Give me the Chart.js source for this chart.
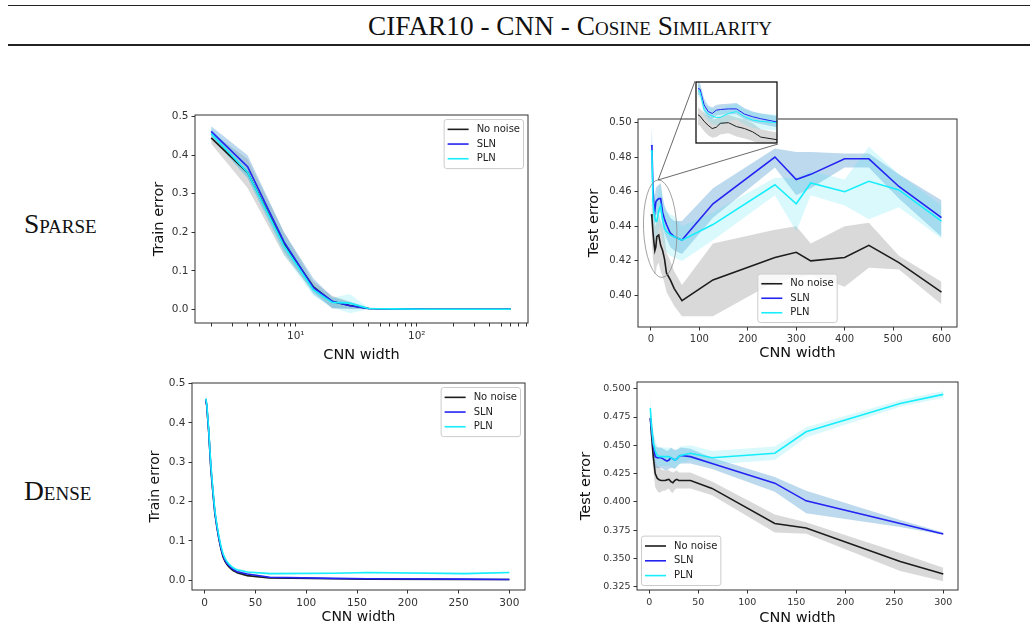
<!DOCTYPE html>
<html>
<head>
<meta charset="utf-8">
<script src="https://cdn.jsdelivr.net/npm/chart.js@4.4.0/dist/chart.umd.min.js"></script>
<style>
  body { margin: 0; background: #fff; }
  #page { position: relative; width: 1034px; height: 642px; overflow: hidden; background: #fff;
          font-family: "Liberation Serif", "Times New Roman", serif; color: #111; }
  .rule { position: absolute; left: 8px; right: 4px; background: #222; }
  #title { position: absolute; left: 570px; top: 13px; transform: translateX(-50%); white-space: nowrap;
           font-size: 27.3px; line-height: 27px; font-variant: small-caps; }
  .rowlab { position: absolute; left: 24px; font-size: 27.5px; line-height: 27px; font-variant: small-caps; }
  canvas { position: absolute; }
</style>
</head>
<body>
<div id="page">
  <div class="rule" style="top:5px;height:1px"></div>
  <div id="title">CIFAR10 - CNN - Cosine Similarity</div>
  <div class="rule" style="top:44px;height:1.5px"></div>
  <div class="rowlab" style="top:210px">Sparse</div>
  <div class="rowlab" style="top:477px">Dense</div>
</div>
<script>
// ---- sparse, train error (log x) ----
const sparseTrainX = [2, 4, 8, 14, 20, 28, 40, 64, 128, 256, 300, 330, 400, 450, 512, 600];
const sparseTrainClean   = [0.445, 0.355, 0.170, 0.058, 0.020, 0.010, 0.002, 0.001, 0, 0, 0, 0, 0, 0, 0, 0];
const sparseTrainCleanLo = [0.430, 0.315, 0.140, 0.046, 0.003, 0.002, 0, 0, 0, 0, 0, 0, 0, 0, 0, 0];
const sparseTrainCleanHi = [0.460, 0.390, 0.200, 0.072, 0.035, 0.020, 0.004, 0.002, 0, 0, 0, 0, 0, 0, 0, 0];
const sparseTrainSLN     = [0.462, 0.370, 0.175, 0.056, 0.021, 0.009, 0.002, 0.001, 0, 0, 0, 0, 0, 0, 0, 0];
const sparseTrainSLNLo   = [0.450, 0.340, 0.150, 0.040, 0.003, 0.001, 0, 0, 0, 0, 0, 0, 0, 0, 0, 0];
const sparseTrainSLNHi   = [0.475, 0.400, 0.200, 0.080, 0.032, 0.018, 0.004, 0.002, 0, 0, 0, 0, 0, 0, 0, 0];
const sparseTrainPLN     = [0.456, 0.355, 0.165, 0.050, 0.018, 0.016, 0.002, 0.001, 0, 0, 0, 0, 0, 0, 0, 0];
const sparseTrainPLNLo   = [0.445, 0.340, 0.140, 0.035, 0.005, -0.010, 0, 0, 0, 0, 0, 0, 0, 0, 0, 0];
const sparseTrainPLNHi   = [0.470, 0.375, 0.190, 0.065, 0.030, 0.040, 0.004, 0.002, 0, 0, 0, 0, 0, 0, 0, 0];
const sparseTrainYTicks = [0, 0.1, 0.2, 0.3, 0.4, 0.5];
const sparseTrainXTicks = [2, 3, 4, 5, 6, 7, 8, 9, 10, 20, 30, 40, 50, 60, 70, 80, 90, 100, 200, 300, 400, 500, 600, 700, 800];
const sparseTrainXLabels = { 10: '10\u00b9', 100: '10\u00b2' };

// ---- sparse, test error ----
const sparseTestX = [1, 2, 4, 6, 8, 10, 12, 16, 20, 24, 28, 32, 40, 48, 64, 128, 256, 300, 330, 400, 450, 512, 600];
const sparseTestClean   = [0.447, 0.445, 0.437, 0.431, 0.426, 0.428, 0.434, 0.435, 0.429, 0.426, 0.421, 0.413, 0.409, 0.404, 0.397, 0.409, 0.422, 0.425, 0.420, 0.422, 0.429, 0.419, 0.402];
const sparseTestCleanLo = [0.432, 0.430, 0.422, 0.416, 0.412, 0.413, 0.417, 0.419, 0.414, 0.411, 0.407, 0.402, 0.398, 0.394, 0.388, 0.388, 0.408, 0.410, 0.412, 0.405, 0.416, 0.415, 0.395];
const sparseTestCleanHi = [0.458, 0.456, 0.450, 0.445, 0.440, 0.441, 0.445, 0.447, 0.443, 0.440, 0.434, 0.425, 0.420, 0.414, 0.406, 0.430, 0.438, 0.440, 0.430, 0.440, 0.442, 0.423, 0.408];
const sparseTestSLN     = [0.487, 0.486, 0.462, 0.452, 0.449, 0.454, 0.455, 0.456, 0.456, 0.448, 0.444, 0.441, 0.436, 0.434, 0.432, 0.453, 0.480, 0.467, 0.470, 0.479, 0.479, 0.463, 0.445];
const sparseTestSLNLo   = [0.478, 0.476, 0.452, 0.443, 0.440, 0.446, 0.447, 0.448, 0.448, 0.440, 0.436, 0.433, 0.428, 0.426, 0.424, 0.445, 0.474, 0.458, 0.462, 0.474, 0.474, 0.456, 0.434];
const sparseTestSLNHi   = [0.496, 0.495, 0.472, 0.461, 0.458, 0.462, 0.463, 0.464, 0.465, 0.457, 0.452, 0.449, 0.445, 0.443, 0.443, 0.462, 0.485, 0.483, 0.483, 0.482, 0.482, 0.470, 0.455];
const sparseTestPLN     = [0.484, 0.482, 0.455, 0.448, 0.445, 0.443, 0.443, 0.449, 0.452, 0.444, 0.439, 0.437, 0.435, 0.434, 0.432, 0.441, 0.464, 0.453, 0.465, 0.460, 0.466, 0.461, 0.443];
const sparseTestPLNLo   = [0.474, 0.472, 0.445, 0.437, 0.433, 0.431, 0.431, 0.437, 0.440, 0.432, 0.427, 0.425, 0.423, 0.422, 0.420, 0.432, 0.458, 0.437, 0.458, 0.452, 0.444, 0.451, 0.433];
const sparseTestPLNHi   = [0.493, 0.492, 0.465, 0.458, 0.456, 0.455, 0.456, 0.461, 0.464, 0.456, 0.451, 0.449, 0.447, 0.446, 0.440, 0.448, 0.468, 0.468, 0.472, 0.467, 0.486, 0.470, 0.452];
const sparseTestYTicks = [0.40, 0.42, 0.44, 0.46, 0.48, 0.50];
const sparseTestXTicks = [0, 100, 200, 300, 400, 500, 600];

// ---- dense, train error ----
const denseX = [1, 2, 4, 6, 8, 10, 12, 14, 16, 18, 20, 22, 24, 26, 28, 30, 32, 42, 64, 128, 160, 256, 300];
const denseTrainClean   = [0.460, 0.445, 0.375, 0.285, 0.225, 0.170, 0.135, 0.105, 0.080, 0.060, 0.048, 0.040, 0.034, 0.029, 0.025, 0.022, 0.019, 0.012, 0.006, 0.004, 0.003, 0.002, 0.002];
const denseTrainCleanLo = [0.448, 0.433, 0.363, 0.275, 0.217, 0.163, 0.129, 0.100, 0.075, 0.056, 0.044, 0.036, 0.031, 0.026, 0.022, 0.019, 0.016, 0.010, 0.004, 0.003, 0.002, 0.001, 0.001];
const denseTrainCleanHi = [0.472, 0.457, 0.387, 0.295, 0.233, 0.177, 0.141, 0.110, 0.085, 0.064, 0.052, 0.044, 0.037, 0.032, 0.028, 0.025, 0.022, 0.014, 0.008, 0.005, 0.004, 0.003, 0.003];
const denseTrainSLN     = [0.460, 0.445, 0.378, 0.290, 0.228, 0.173, 0.137, 0.107, 0.082, 0.063, 0.051, 0.043, 0.037, 0.032, 0.028, 0.025, 0.022, 0.016, 0.008, 0.005, 0.004, 0.003, 0.002];
const denseTrainSLNLo   = [0.450, 0.435, 0.368, 0.281, 0.220, 0.166, 0.131, 0.102, 0.077, 0.059, 0.047, 0.039, 0.034, 0.029, 0.025, 0.022, 0.019, 0.014, 0.007, 0.004, 0.003, 0.002, 0.001];
const denseTrainSLNHi   = [0.470, 0.455, 0.388, 0.299, 0.236, 0.180, 0.143, 0.112, 0.087, 0.067, 0.055, 0.047, 0.040, 0.035, 0.031, 0.028, 0.025, 0.018, 0.009, 0.006, 0.005, 0.004, 0.003];
const denseTrainPLN     = [0.462, 0.450, 0.382, 0.295, 0.233, 0.178, 0.142, 0.112, 0.087, 0.068, 0.056, 0.047, 0.041, 0.036, 0.032, 0.029, 0.027, 0.021, 0.017, 0.018, 0.020, 0.017, 0.020];
const denseTrainPLNLo   = [0.450, 0.438, 0.370, 0.285, 0.225, 0.171, 0.136, 0.107, 0.082, 0.064, 0.052, 0.043, 0.038, 0.033, 0.029, 0.026, 0.024, 0.019, 0.015, 0.016, 0.018, 0.015, 0.018];
const denseTrainPLNHi   = [0.474, 0.462, 0.394, 0.305, 0.241, 0.185, 0.148, 0.117, 0.092, 0.072, 0.060, 0.051, 0.044, 0.039, 0.035, 0.032, 0.030, 0.023, 0.019, 0.020, 0.022, 0.019, 0.022];
const denseTrainYTicks = [0, 0.1, 0.2, 0.3, 0.4, 0.5];
const denseXTicks = [0, 50, 100, 150, 200, 250, 300];

// ---- dense, test error ----
const denseTestClean   = [0.474, 0.462, 0.440, 0.425, 0.421, 0.4195, 0.419, 0.419, 0.419, 0.4195, 0.420, 0.418, 0.417, 0.419, 0.420, 0.419, 0.419, 0.419, 0.412, 0.381, 0.377, 0.3475, 0.3365];
const denseTestCleanLo = [0.462, 0.450, 0.428, 0.413, 0.410, 0.408, 0.409, 0.410, 0.410, 0.411, 0.412, 0.409, 0.408, 0.411, 0.412, 0.412, 0.412, 0.412, 0.406, 0.373, 0.372, 0.339, 0.330];
const denseTestCleanHi = [0.486, 0.474, 0.452, 0.437, 0.432, 0.431, 0.429, 0.428, 0.428, 0.428, 0.428, 0.427, 0.426, 0.427, 0.428, 0.426, 0.426, 0.426, 0.418, 0.389, 0.382, 0.355, 0.342];
const denseTestSLN     = [0.474, 0.466, 0.450, 0.440, 0.439, 0.439, 0.439, 0.438, 0.437, 0.436, 0.437, 0.439, 0.438, 0.437, 0.438, 0.440, 0.441, 0.440, 0.434, 0.4166, 0.401, 0.381, 0.3718];
const denseTestSLNLo   = [0.462, 0.455, 0.439, 0.430, 0.430, 0.430, 0.430, 0.429, 0.428, 0.428, 0.429, 0.430, 0.430, 0.429, 0.431, 0.433, 0.434, 0.434, 0.429, 0.409, 0.390, 0.378, 0.371];
const denseTestSLNHi   = [0.486, 0.477, 0.461, 0.450, 0.448, 0.448, 0.448, 0.447, 0.446, 0.445, 0.446, 0.448, 0.447, 0.446, 0.446, 0.447, 0.448, 0.447, 0.439, 0.422, 0.410, 0.384, 0.373];
const denseTestPLN     = [0.483, 0.468, 0.452, 0.445, 0.441, 0.440, 0.440, 0.440, 0.440, 0.440, 0.440, 0.439, 0.438, 0.437, 0.438, 0.440, 0.441, 0.443, 0.439, 0.443, 0.462, 0.487, 0.495];
const denseTestPLNLo   = [0.470, 0.457, 0.442, 0.436, 0.433, 0.432, 0.432, 0.432, 0.432, 0.432, 0.432, 0.431, 0.430, 0.430, 0.431, 0.433, 0.434, 0.437, 0.433, 0.437, 0.457, 0.484, 0.492];
const denseTestPLNHi   = [0.497, 0.480, 0.463, 0.455, 0.450, 0.448, 0.448, 0.448, 0.448, 0.448, 0.448, 0.447, 0.446, 0.445, 0.446, 0.448, 0.449, 0.450, 0.445, 0.449, 0.466, 0.490, 0.498];
const denseTestYTicks = [0.325, 0.350, 0.375, 0.400, 0.425, 0.450, 0.475, 0.500];

const FONT = "'DejaVu Sans', sans-serif";
const lineColor = { clean: '#1c1c1c', sln: '#2323f2', pln: '#16eefc' };
const bandColor = { clean: 'rgba(0,0,0,0.15)', sln: 'rgba(95,165,215,0.42)', pln: 'rgba(70,225,240,0.2)' };

Chart.defaults.font.family = FONT;
Chart.defaults.elements.point.radius = 0;

function pts(xs, ys) { return xs.map((x, i) => ({ x: x, y: ys[i] })); }

// one curve = line + shaded band (hi filled down to lo)
function makeSeries(xs, key, label, y, lo, hi, order, lw) {
  return [
    { label: label, data: pts(xs, y), borderColor: lineColor[key], borderWidth: lw, fill: false, order: order },
    { band: true, data: pts(xs, hi), borderWidth: 0, borderColor: 'transparent', fill: '+1', backgroundColor: bandColor[key], order: order + 10 },
    { band: true, data: pts(xs, lo), borderWidth: 0, borderColor: 'transparent', fill: false, order: order + 10 }
  ];
}

function threeSeries(xs, c, cl, ch, s, sl, sh, p, pl, ph, lw) {
  return [].concat(
    makeSeries(xs, 'clean', 'No noise', c, cl, ch, 3, lw),
    makeSeries(xs, 'sln', 'SLN', s, sl, sh, 2, lw),
    makeSeries(xs, 'pln', 'PLN', p, pl, ph, 1, lw)
  );
}

// axes box like matplotlib spines
const framePlugin = {
  id: 'frame',
  afterDatasetsDraw(chart, args, opts) {
    const a = chart.chartArea, ctx = chart.ctx;
    ctx.save();
    ctx.strokeStyle = opts.color || '#333';
    ctx.lineWidth = opts.width || 1;
    ctx.strokeRect(a.left, a.top, a.right - a.left, a.bottom - a.top);
    ctx.restore();
  }
};

// framed legend inside the axes
const legendPlugin = {
  id: 'boxLegend',
  afterDraw(chart, args, opts) {
    if (!opts.loc) return;
    const ctx = chart.ctx, a = chart.chartArea;
    const items = chart.data.datasets.filter(d => !d.band);
    ctx.save();
    ctx.font = opts.size + 'px ' + FONT;
    const tw = Math.max(...items.map(d => ctx.measureText(d.label).width));
    const rowH = opts.rowH, padX = 3.5, padY = 2.5, handle = 21, gap = 8, m = 4.5;
    const w = padX * 2 + handle + gap + tw, h = padY * 2 + rowH * items.length;
    let x, y;
    if (opts.loc === 'upper right') { x = a.right - m - w; y = a.top + m; }
    else if (opts.loc === 'lower left') { x = a.left + m; y = a.bottom - m - h; }
    else { x = (a.left + a.right) / 2 - w / 2; y = a.bottom - m - h; }
    ctx.beginPath();
    ctx.roundRect(x, y, w, h, 2.5);
    ctx.fillStyle = 'rgba(255,255,255,0.8)';
    ctx.fill();
    ctx.strokeStyle = '#cccccc';
    ctx.lineWidth = 1;
    ctx.stroke();
    items.forEach((d, i) => {
      const cy = y + padY + rowH * (i + 0.5);
      ctx.strokeStyle = d.borderColor;
      ctx.lineWidth = d.borderWidth;
      ctx.beginPath();
      ctx.moveTo(x + padX, cy);
      ctx.lineTo(x + padX + handle, cy);
      ctx.stroke();
      ctx.fillStyle = '#222';
      ctx.textBaseline = 'middle';
      ctx.fillText(d.label, x + padX + handle + gap, cy);
    });
    ctx.restore();
  }
};

// ellipse around the small widths + lines to the zoomed box
const zoomMarkPlugin = {
  id: 'zoomMark',
  afterDraw(chart, args, o) {
    if (!o.inset) return;
    const xs = chart.scales.x, ys = chart.scales.y, ctx = chart.ctx;
    const cx = xs.getPixelForValue(o.cx), cy = ys.getPixelForValue(o.cy);
    const rx = Math.abs(xs.getPixelForValue(o.cx + o.rx) - cx);
    const ry = Math.abs(ys.getPixelForValue(o.cy + o.ry) - cy);
    ctx.save();
    ctx.strokeStyle = '#8a8a8a';
    ctx.lineWidth = 0.8;
    ctx.beginPath();
    ctx.ellipse(cx, cy, rx, ry, o.rot, 0, Math.PI * 2);
    ctx.stroke();
    const tx = cx + ry * Math.sin(o.rot), ty = cy - ry * Math.cos(o.rot);
    const ix = o.inset.l - chart.canvas.offsetLeft, iy = o.inset.t - chart.canvas.offsetTop;
    ctx.strokeStyle = '#444';
    ctx.beginPath();
    ctx.moveTo(tx, ty); ctx.lineTo(ix, iy);
    ctx.moveTo(tx, ty); ctx.lineTo(ix + o.inset.w, iy + o.inset.h);
    ctx.stroke();
    ctx.restore();
  }
};

function addCanvas(left, top, w, h, z) {
  const c = document.createElement('canvas');
  c.width = w; c.height = h;
  c.style.left = left + 'px'; c.style.top = top + 'px';
  c.style.width = w + 'px'; c.style.height = h + 'px';
  c.style.zIndex = z;
  document.getElementById('page').appendChild(c);
  return c;
}

function axis(o) {
  return {
    type: o.type || 'linear',
    min: o.min, max: o.max,
    afterBuildTicks: s => { s.ticks = o.ticks.map(v => ({ value: v })); },
    ticks: { callback: o.fmt, autoSkip: false, maxRotation: 0, padding: 3, color: '#333', font: { size: o.tickSize } },
    grid: { display: true, drawOnChartArea: false, drawTicks: true, tickLength: 3.5, tickWidth: 1, tickColor: '#333' },
    border: { display: false },
    title: { display: true, text: o.title, color: '#111', padding: 0, font: { size: o.titleSize } }
  };
}

// g: axes box on the page (l,t,r,b) and axis-title offsets from it
function panel(g, datasets, xAx, yAx, plugOpts) {
  const lh = g.titleSize * 1.2;
  const left = Math.round(g.l - g.yOff - lh / 2);
  const top = g.t - g.padTop;
  const w = g.r + g.padRight - left;
  const h = Math.round(g.b + g.xOff + lh / 2) - top;
  const canvas = addCanvas(left, top, w, h, 1);
  const yW = g.l - left, xH = top + h - g.b;
  xAx.afterFit = s => { s.height = xH; };
  yAx.afterFit = s => { s.width = yW; };
  return new Chart(canvas, {
    type: 'line',
    data: { datasets: datasets },
    options: {
      responsive: false, animation: false, events: [],
      layout: { padding: { top: g.padTop, right: g.padRight, left: 0, bottom: 0 } },
      scales: { x: xAx, y: yAx },
      plugins: Object.assign({ legend: { display: false }, tooltip: { enabled: false }, frame: { color: '#333', width: 1 } }, plugOpts)
    },
    plugins: [framePlugin, legendPlugin, zoomMarkPlugin]
  });
}

const fmt = d => v => v.toFixed(d);

// sparse / train
panel({ l: 195, t: 115, r: 528, b: 323, yOff: 35, xOff: 32, titleSize: 14.5, padTop: 12, padRight: 22 },
  threeSeries(sparseTrainX, sparseTrainClean, sparseTrainCleanLo, sparseTrainCleanHi,
    sparseTrainSLN, sparseTrainSLNLo, sparseTrainSLNHi, sparseTrainPLN, sparseTrainPLNLo, sparseTrainPLNHi, 1.6),
  axis({ type: 'logarithmic', min: 1.47, max: 831, ticks: sparseTrainXTicks, fmt: v => sparseTrainXLabels[v] || '',
    tickSize: 10.5, title: 'CNN width', titleSize: 14.5 }),
  axis({ min: -0.0356, max: 0.5044, ticks: sparseTrainYTicks, fmt: fmt(1), tickSize: 10.5, title: 'Train error', titleSize: 14.5 }),
  { boxLegend: { loc: 'upper right', size: 10, rowH: 14.7 } });

// sparse / test, with zoomed box over the small widths
const insetBox = { l: 695, t: 81, w: 83, h: 63 };
panel({ l: 638, t: 119, r: 957, b: 327, yOff: 43, xOff: 26, titleSize: 14.5, padTop: 47, padRight: 22 },
  threeSeries(sparseTestX, sparseTestClean, sparseTestCleanLo, sparseTestCleanHi,
    sparseTestSLN, sparseTestSLNLo, sparseTestSLNHi, sparseTestPLN, sparseTestPLNLo, sparseTestPLNHi, 1.6),
  axis({ min: -26.8, max: 632, ticks: sparseTestXTicks, fmt: fmt(0), tickSize: 10, title: 'CNN width', titleSize: 14.5 }),
  axis({ min: 0.3818, max: 0.502, ticks: sparseTestYTicks, fmt: fmt(2), tickSize: 10, title: 'Test error', titleSize: 14.5 }),
  { boxLegend: { loc: 'lower center', size: 10, rowH: 14.5 },
    zoomMark: { cx: 19, cy: 0.4386, rx: 34.4, ry: 0.0282, rot: -0.04, inset: insetBox } });

const insetCanvas = addCanvas(insetBox.l, insetBox.t, insetBox.w, insetBox.h, 3);
insetCanvas.style.background = '#fff';
new Chart(insetCanvas, {
  type: 'line',
  data: { datasets: threeSeries(sparseTestX, sparseTestClean, sparseTestCleanLo, sparseTestCleanHi,
    sparseTestSLN, sparseTestSLNLo, sparseTestSLNHi, sparseTestPLN, sparseTestPLNLo, sparseTestPLNHi, 1) },
  options: {
    responsive: false, animation: false, events: [],
    layout: { padding: 1 },
    scales: { x: { type: 'linear', display: false, min: 0, max: 40 }, y: { display: false, min: 0.404, max: 0.497 } },
    plugins: { legend: { display: false }, tooltip: { enabled: false }, frame: { color: '#111', width: 1.3 } }
  },
  plugins: [framePlugin]
});

// dense / train
panel({ l: 192, t: 383, r: 525, b: 590, yOff: 37, xOff: 28, titleSize: 14, padTop: 12, padRight: 22 },
  threeSeries(denseX, denseTrainClean, denseTrainCleanLo, denseTrainCleanHi,
    denseTrainSLN, denseTrainSLNLo, denseTrainSLNHi, denseTrainPLN, denseTrainPLNLo, denseTrainPLNHi, 1.6),
  axis({ min: -12.5, max: 315.4, ticks: denseXTicks, fmt: fmt(0), tickSize: 10.5, title: 'CNN width', titleSize: 14 }),
  axis({ min: -0.0246, max: 0.5016, ticks: denseTrainYTicks, fmt: fmt(1), tickSize: 10.5, title: 'Train error', titleSize: 14 }),
  { boxLegend: { loc: 'upper right', size: 10, rowH: 14.7 } });

// dense / test
panel({ l: 637, t: 382, r: 958, b: 590, yOff: 50, xOff: 28, titleSize: 14.5, padTop: 12, padRight: 22 },
  threeSeries(denseX, denseTestClean, denseTestCleanLo, denseTestCleanHi,
    denseTestSLN, denseTestSLNLo, denseTestSLNHi, denseTestPLN, denseTestPLNLo, denseTestPLNHi, 1.6),
  axis({ min: -12.6, max: 315, ticks: denseXTicks, fmt: fmt(0), tickSize: 9.5, title: 'CNN width', titleSize: 14.5 }),
  axis({ min: 0.3223, max: 0.5059, ticks: denseTestYTicks, fmt: fmt(3), tickSize: 9.5, title: 'Test error', titleSize: 14.5 }),
  { boxLegend: { loc: 'lower left', size: 10, rowH: 14.8 } });
</script>
</body>
</html>
